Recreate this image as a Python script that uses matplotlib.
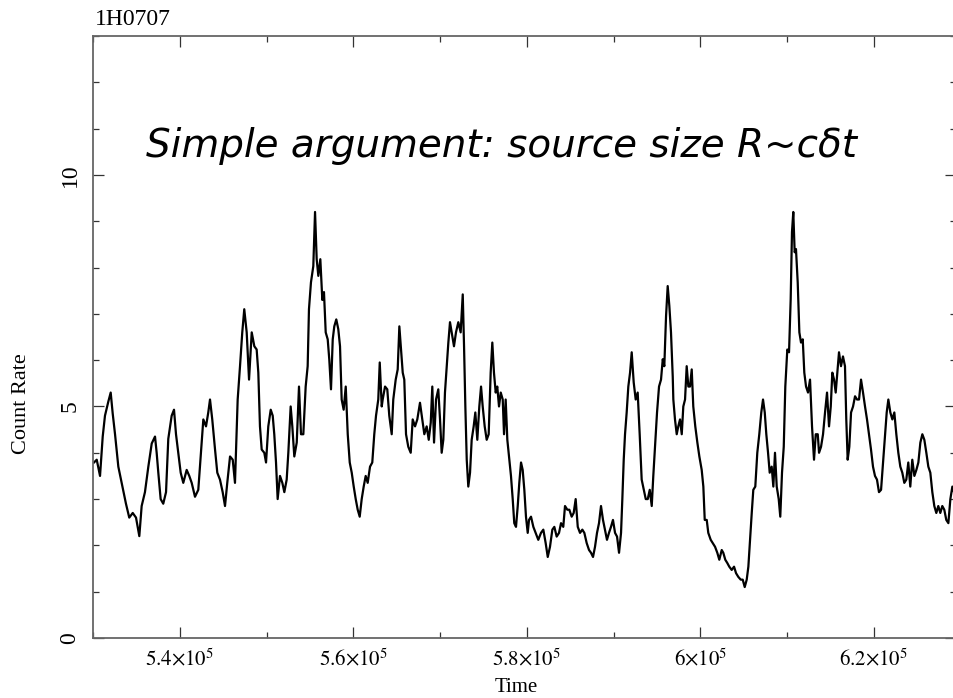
import numpy as np
import matplotlib.pyplot as plt
from matplotlib.ticker import MultipleLocator

plt.rcParams['font.family'] = 'Liberation Serif'
plt.rcParams['mathtext.fontset'] = 'stix'

# light curve: time in ks, count rate
time_ks = [
    530.08, 530.40, 530.78, 531.09, 531.35, 531.73, 532.01, 532.24, 532.51, 532.89,
    533.28, 533.46, 533.77, 534.15, 534.55, 534.93, 535.31, 535.58, 535.96, 536.35,
    536.74, 537.12, 537.31, 537.50, 537.77, 538.07, 538.39, 538.65, 539.04, 539.31,
    539.54, 539.80, 540.08, 540.38, 540.77, 541.07, 541.35, 541.73, 542.11, 542.42,
    542.69, 543.00, 543.26, 543.46, 543.72, 544.04, 544.30, 544.61, 544.92, 545.19,
    545.45, 545.77, 546.08, 546.34,
    546.65, 546.92, 547.18, 547.41, 547.69, 547.96, 548.27, 548.57, 548.84, 549.03,
    549.22, 549.42, 549.72, 549.92, 550.18, 550.46, 550.69, 550.87, 551.07, 551.26,
    551.53, 551.80, 552.03, 552.30, 552.49, 552.76, 552.95, 553.18, 553.46, 553.72,
    553.95, 554.22, 554.49, 554.72, 554.87, 555.10, 555.37, 555.57, 555.76, 555.95,
    556.18, 556.41, 556.60, 556.80, 557.03, 557.21, 557.41, 557.61, 557.79, 558.02,
    558.25, 558.45, 558.64, 558.87, 559.11, 559.34, 559.57, 559.80, 560.03, 560.26,
    560.49, 560.72, 560.95, 561.18, 561.41, 561.64, 561.91, 562.17, 562.40, 562.60,
    562.86, 563.03, 563.26,
    563.37, 563.64, 563.90, 564.13, 564.41, 564.59, 564.87, 565.10, 565.29, 565.48,
    565.68, 565.86, 566.06, 566.32, 566.60, 566.83, 567.10, 567.36, 567.67, 567.94,
    568.17, 568.44, 568.68, 568.91, 569.09, 569.29, 569.52, 569.78, 569.98, 570.17,
    570.36, 570.55, 570.75, 570.94, 571.13, 571.33, 571.59, 571.82, 572.09, 572.36,
    572.60, 572.75, 572.90, 573.06, 573.24, 573.44, 573.63, 573.86, 574.05, 574.28,
    574.51, 574.71, 574.90, 575.13, 575.36, 575.59, 575.82, 576.01, 576.20, 576.40,
    576.58, 576.78, 576.98, 577.21, 577.36, 577.55, 577.74, 577.97, 578.16, 578.36,
    578.54, 578.74, 578.94, 579.12, 579.32, 579.51, 579.70, 579.89, 580.09,
    580.24, 580.47, 580.74, 581.01, 581.31, 581.62, 581.89, 582.16, 582.40, 582.66,
    582.93, 583.16, 583.43, 583.70, 583.93, 584.19, 584.39, 584.66, 584.89, 585.16,
    585.39, 585.62, 585.86, 586.12, 586.39, 586.62, 586.89, 587.16, 587.39, 587.62,
    587.85, 588.08, 588.31, 588.54, 588.77, 589.00, 589.23, 589.46, 589.69, 589.92,
    590.16, 590.39, 590.62, 590.85, 591.00, 591.16, 591.31, 591.50, 591.69, 591.89,
    592.08, 592.31, 592.54, 592.77, 593.00, 593.23, 593.47, 593.70, 593.93, 594.16,
    594.39, 594.57, 594.77, 595.00, 595.23, 595.46, 595.66, 595.84, 596.04, 596.23,
    596.42, 596.61, 596.81,
    596.88, 597.07, 597.27, 597.45, 597.65, 597.85, 598.03, 598.23, 598.42, 598.61,
    598.80, 599.00, 599.18, 599.41, 599.65, 599.88, 600.15, 600.34, 600.50, 600.73,
    600.91, 601.19, 601.42, 601.69, 601.95, 602.18, 602.46, 602.64, 602.87, 603.10,
    603.33, 603.61, 603.88, 604.11, 604.37, 604.65, 604.88, 605.11, 605.34, 605.53,
    605.72, 605.92, 606.10, 606.33, 606.56, 606.79, 607.02, 607.22, 607.42, 607.60,
    607.80, 607.99, 608.22, 608.41, 608.60, 608.80, 609.03, 609.21, 609.41, 609.61,
    609.79, 610.02, 610.22, 610.41, 610.56, 610.71, 610.87, 611.02, 611.22, 611.41,
    611.60, 611.80, 611.98, 612.18, 612.41, 612.64, 612.87, 613.10, 613.30, 613.53,
    613.68, 613.91, 614.14, 614.37, 614.60, 614.83, 615.03, 615.21, 615.41, 615.60,
    615.79, 615.98, 616.21, 616.44, 616.67, 616.82, 616.98, 617.17, 617.37, 617.60,
    617.83, 618.06, 618.29, 618.52, 618.75, 618.98, 619.21, 619.44, 619.67, 619.90,
    620.13, 620.36, 620.59, 620.83, 621.06, 621.29, 621.48, 621.67, 621.90, 622.13,
    622.36, 622.59, 622.82, 623.05, 623.28, 623.51, 623.74, 623.97, 624.20, 624.43,
    624.67, 624.90, 625.13, 625.36, 625.59, 625.82, 626.05, 626.28, 626.51, 626.74,
    626.97, 627.20, 627.43, 627.66, 627.89, 628.12, 628.35, 628.59, 628.82, 629.05,
    629.24,
]
rate = [
    3.79, 3.85, 3.5, 4.35, 4.8, 5.1, 5.3, 4.85, 4.4, 3.7,
    3.35, 3.2, 2.9, 2.6, 2.7, 2.6, 2.2, 2.85, 3.15, 3.7,
    4.2, 4.35, 4.0, 3.57, 3.0, 2.9, 3.15, 4.3, 4.8, 4.93,
    4.4, 4.0, 3.57, 3.35, 3.63, 3.5, 3.35, 3.05, 3.2, 4.0,
    4.72, 4.57, 4.87, 5.15, 4.72, 4.07, 3.57, 3.42, 3.15, 2.85,
    3.35, 3.92, 3.85, 3.35,
    5.15, 5.87, 6.6, 7.1, 6.6, 5.58, 6.6, 6.3, 6.23, 5.73,
    4.57, 4.07, 4.0, 3.79, 4.57, 4.93, 4.8, 4.4, 3.79, 3.0,
    3.5, 3.35, 3.15, 3.42, 4.0, 5.0, 4.57, 3.92, 4.22, 5.43,
    4.4, 4.4, 5.43, 5.87, 7.1, 7.68, 8.03, 9.2, 8.18, 7.82,
    8.18, 7.3, 7.47, 6.6, 6.45, 6.02, 5.37, 6.45, 6.73, 6.88,
    6.67, 6.3, 5.15, 4.93, 5.43, 4.4, 3.79, 3.57, 3.27, 3.0,
    2.77, 2.62, 3.0, 3.27, 3.5, 3.35, 3.7, 3.79, 4.4, 4.8,
    5.15, 5.95, 5.0,
    5.15, 5.43, 5.37, 4.8, 4.4, 5.15, 5.58, 5.8, 6.73, 6.23,
    5.73, 5.58, 4.4, 4.13, 4.0, 4.72, 4.57, 4.72, 5.08, 4.72,
    4.4, 4.57, 4.28, 4.65, 5.43, 4.22, 5.15, 5.37, 4.72, 4.0,
    4.28, 5.3, 5.87, 6.38, 6.82, 6.6, 6.3, 6.6, 6.82, 6.6,
    7.42, 6.3, 5.0, 3.85, 3.27, 3.57, 4.28, 4.57, 4.87, 4.28,
    5.0, 5.43, 5.0, 4.57, 4.28, 4.4, 5.73, 6.38, 5.73, 5.3,
    5.43, 5.0, 5.3, 5.15, 4.4, 5.15, 4.28, 3.85, 3.5, 3.0,
    2.48, 2.4, 2.85, 3.35, 3.79, 3.63, 3.2, 2.62, 2.27,
    2.55, 2.62, 2.4, 2.27, 2.12, 2.27, 2.34, 2.05, 1.75, 1.97,
    2.34, 2.4, 2.19, 2.27, 2.48, 2.4, 2.85, 2.77, 2.77, 2.62,
    2.7, 3.0, 2.4, 2.27, 2.34, 2.27, 2.05, 1.9, 1.84, 1.75,
    1.97, 2.27, 2.48, 2.85, 2.55, 2.34, 2.12, 2.27, 2.4, 2.55,
    2.27, 2.19, 1.84, 2.27, 3.0, 3.85, 4.4, 4.87, 5.43, 5.73,
    6.17, 5.52, 5.15, 5.3, 4.4, 3.42, 3.2, 3.0, 3.0, 3.2,
    2.85, 3.5, 4.13, 4.87, 5.43, 5.58, 6.02, 5.87, 6.95, 7.6,
    7.17, 6.6, 5.65,
    5.15, 4.72, 4.4, 4.57, 4.72, 4.4, 5.0, 5.15, 5.87, 5.43,
    5.43, 5.8, 5.0, 4.57, 4.22, 3.92, 3.63, 3.27, 2.55, 2.55,
    2.27, 2.12, 2.05, 1.97, 1.84, 1.69, 1.9, 1.84, 1.69, 1.62,
    1.54, 1.47, 1.54, 1.4, 1.32, 1.26, 1.26, 1.1, 1.26, 1.54,
    2.12, 2.7, 3.2, 3.27, 4.0, 4.4, 4.87, 5.15, 4.87, 4.4,
    4.0, 3.57, 3.7, 3.27, 4.0, 3.27, 3.0, 2.62, 3.57, 4.13,
    5.43, 6.23, 6.17, 7.32, 8.77, 9.2, 8.33, 8.4, 7.68, 6.6,
    6.38, 6.45, 5.73, 5.43, 5.3, 5.58, 4.57, 3.85, 4.4, 4.4,
    4.0, 4.13, 4.4, 4.87, 5.3, 4.57, 5.0, 5.73, 5.58, 5.3,
    5.73, 6.17, 5.87, 6.08, 5.87, 4.72, 3.85, 4.13, 4.87, 5.0,
    5.22, 5.15, 5.15, 5.58, 5.3, 5.0, 4.72, 4.4, 4.07, 3.7,
    3.5, 3.42, 3.15, 3.2, 3.79, 4.4, 4.87, 5.15, 4.87, 4.72,
    4.87, 4.4, 4.0, 3.7, 3.57, 3.35, 3.42, 3.79, 3.27, 3.85,
    3.5, 3.63, 3.79, 4.22, 4.4, 4.28, 4.0, 3.7, 3.57, 3.15,
    2.85, 2.7, 2.85, 2.7, 2.85, 2.77, 2.55, 2.48, 3.0, 3.27,
    3.15,
]

xticks = [540000, 560000, 580000, 600000, 620000]
xtick_labels = [r'$5.4{\times}10^5$', r'$5.6{\times}10^5$', r'$5.8{\times}10^5$',
                r'$6{\times}10^5$', r'$6.2{\times}10^5$']
yticks = [0, 5, 10]

fig = plt.figure(figsize=(9.54, 6.98), dpi=100)
ax = fig.add_axes([93/954, 60/698, 863/954, 602/698])

t = np.array(time_ks) * 1000
ax.plot(t, rate, color='black', lw=1.6)

ax.set_xlim(529970, 629470)
ax.set_ylim(0, 13)
ax.set_xticks(xticks)
ax.set_xticklabels(xtick_labels)
ax.xaxis.set_minor_locator(MultipleLocator(10000))
ax.set_yticks(yticks)
ax.set_yticklabels([str(v) for v in yticks])
ax.yaxis.set_minor_locator(MultipleLocator(1))

ax.tick_params(which='both', direction='in', top=True, right=True,
               color='#333333', width=0.9)
ax.tick_params(which='major', length=8)
ax.tick_params(which='minor', length=4.5)
ax.tick_params(axis='x', labelsize=15, pad=8)
ax.tick_params(axis='y', labelsize=17, pad=9, labelrotation=90)
for lab in ax.get_yticklabels():
    lab.set_verticalalignment('center')

for sp in ax.spines.values():
    sp.set_color('#666666')
    sp.set_linewidth(1.3)

ax.set_xlabel('Time', fontsize=15)
ax.xaxis.set_label_coords(0.49, -0.066)
ax.set_ylabel('Count Rate', fontsize=16)
ax.yaxis.set_label_coords(-0.072, 0.39)

fig.text(95/954, 1 - 25/698, '1H0707', fontsize=17, ha='left', va='baseline')
fig.text(502/954, 1 - 157/698, 'Simple argument: source size R~c\u03b4t',
         family='DejaVu Sans', style='italic', fontsize=28,
         ha='center', va='baseline')

fig.savefig('out.png', dpi=100)
